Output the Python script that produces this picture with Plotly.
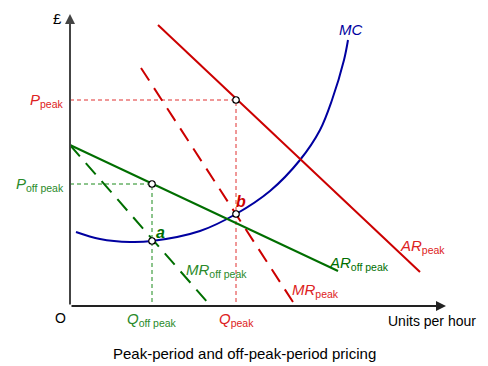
import plotly.graph_objects as go

# Quantities / prices (schematic units)
q_offpeak = 82
q_peak = 166
p_peak = 206
p_offpeak = 122
mc_at_a = 65
mc_at_b = 92

ar_peak_x = [88, 350]
ar_peak_y = [281, 34]
mr_peak_x = [71, 223]
mr_peak_y = [238, 4]
ar_off_x = [0, 268]
ar_off_y = [161, 35]
mr_off_x = [0, 139]
mr_off_y = [161, 2]
mc_x = [6, 30, 60, 82, 130, 166, 200, 230, 250, 262, 274, 278]
mc_y = [74, 67, 64, 65, 75, 92, 115, 146, 176, 206, 246, 266]

RED = "#cc0000"
RED_T = "#dd2222"
GREEN = "#006e00"
GREEN_T = "#2a8a2a"
BLUE = "#0000a0"
FONT = "Liberation Sans"

fig = go.Figure()
# guides
fig.add_trace(go.Scatter(x=[0, q_peak, q_peak], y=[p_peak, p_peak, 0], mode="lines",
                         line=dict(color="#e03030", width=1, dash="4px,3px")))
fig.add_trace(go.Scatter(x=[0, q_offpeak, q_offpeak], y=[p_offpeak, p_offpeak, 0], mode="lines",
                         line=dict(color="#1a8a1a", width=1, dash="4px,3px")))
# curves
fig.add_trace(go.Scatter(x=mc_x, y=mc_y, mode="lines", line=dict(color=BLUE, width=2, shape="spline")))
fig.add_trace(go.Scatter(x=ar_peak_x, y=ar_peak_y, mode="lines", line=dict(color=RED, width=2)))
fig.add_trace(go.Scatter(x=mr_peak_x, y=mr_peak_y, mode="lines", line=dict(color=RED, width=2, dash="15px,9px")))
fig.add_trace(go.Scatter(x=ar_off_x, y=ar_off_y, mode="lines", line=dict(color=GREEN, width=2)))
fig.add_trace(go.Scatter(x=mr_off_x, y=mr_off_y, mode="lines", line=dict(color=GREEN, width=2, dash="15px,9px")))
# points
fig.add_trace(go.Scatter(x=[q_peak, q_peak, q_offpeak, q_offpeak], y=[p_peak, mc_at_b, p_offpeak, mc_at_a],
                         mode="markers", marker=dict(size=6.5, color="white", line=dict(color="black", width=1.2))))

ann = []
def txt(x, y, t, color, size=14, xanchor="center", yanchor="middle"):
    ann.append(dict(x=x, y=y, text=t, showarrow=False, xref="x", yref="y",
                    font=dict(family=FONT, size=size, color=color), xanchor=xanchor, yanchor=yanchor))

txt(-13, 288, "£", "black", 15)
txt(-10, -12, "O", "black", 14)
txt(-4, p_peak, "<i>P</i><sub>peak</sub>", RED_T, 15, xanchor="right")
txt(-4, p_offpeak, "<i>P</i><sub>off peak</sub>", GREEN_T, 15, xanchor="right")
txt(q_offpeak, -13, "<i>Q</i><sub>off peak</sub>", GREEN_T, 15)
txt(q_peak, -13, "<i>Q</i><sub>peak</sub>", RED_T, 15)
txt(362, -15, "Units per hour", "black", 14)
txt(174, -47, "Peak-period and off-peak-period pricing", "black", 15)
txt(280, 277, "<i>MC</i>", BLUE, 15)
txt(352, 60, "<i>AR</i><sub>peak</sub>", RED_T, 15)
txt(289, 43, "<i>AR</i><sub>off peak</sub>", GREEN, 15)
txt(245, 16, "<i>MR</i><sub>peak</sub>", RED_T, 15)
txt(146, 36, "<i>MR</i><sub>off peak</sub>", GREEN_T, 15)
txt(90, 74, "<b><i>a</i></b>", GREEN, 16)
txt(171, 105, "<b><i>b</i></b>", RED, 16)

# axes with arrowheads
ann.append(dict(x=0, y=292, ax=0, ay=0, xref="x", yref="y", axref="x", ayref="y", showarrow=True,
                arrowhead=2, arrowsize=1, arrowwidth=2, arrowcolor="#444", text=""))
ann.append(dict(x=376, y=0, ax=0, ay=0, xref="x", yref="y", axref="x", ayref="y", showarrow=True,
                arrowhead=2, arrowsize=1, arrowwidth=2, arrowcolor="#222", text=""))

# page body has an 8px margin, so the figure is 8px smaller and ranges start 8px in
fig.update_layout(
    width=480, height=358, margin=dict(l=0, r=0, t=0, b=0),
    plot_bgcolor="white", paper_bgcolor="white", showlegend=False,
    xaxis=dict(range=[-62, 418], visible=False, fixedrange=True),
    yaxis=dict(range=[-60, 298], visible=False, fixedrange=True),
    annotations=ann,
)
fig.write_html("out.html")
